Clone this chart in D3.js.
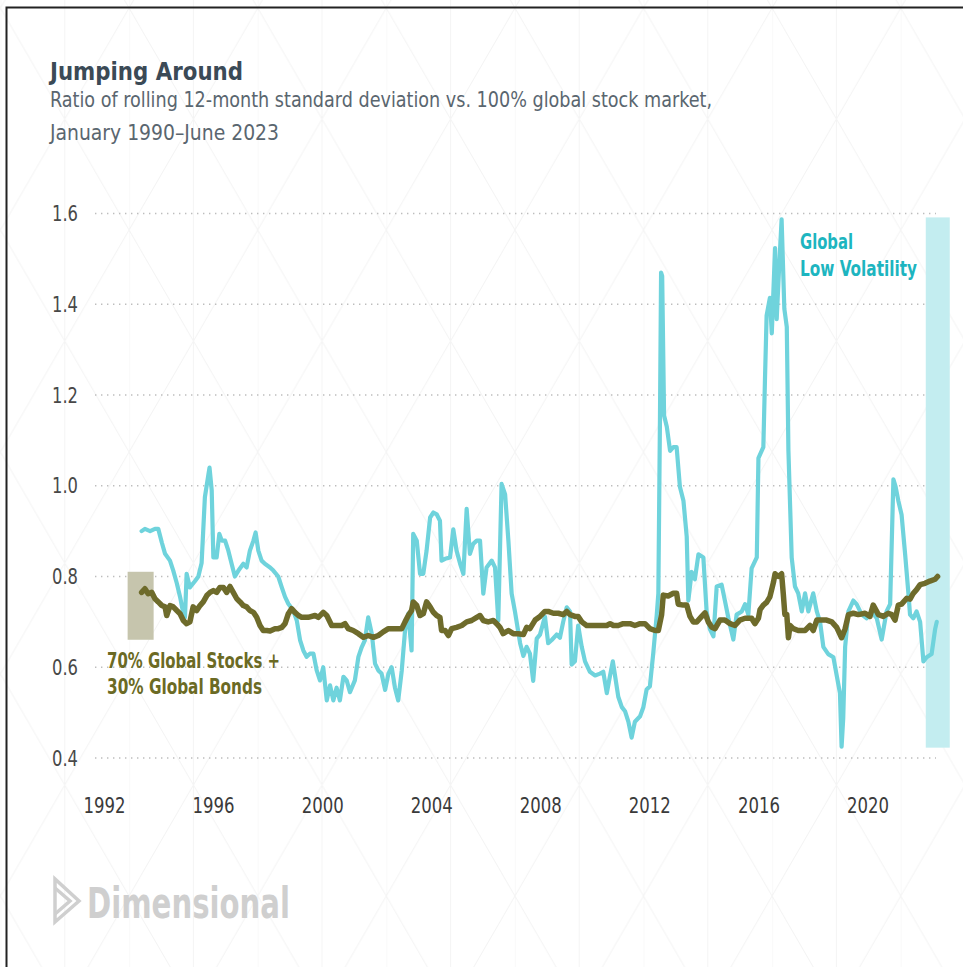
<!DOCTYPE html>
<html>
<head>
<meta charset="utf-8">
<script src="https://cdn.jsdelivr.net/npm/d3@7"></script>
<style>
  body { margin: 0; background: #fff; }
  svg { display: block; font-family: 'Liberation Sans Narrow', 'DejaVu Sans Condensed', Roboto, sans-serif; }
</style>
</head>
<body>
<div id="chart"></div>
<script>
// tick labels
const yearTicks = [1992, 1996, 2000, 2004, 2008, 2012, 2016, 2020];
const ratioTicks = [0.4, 0.6, 0.8, 1.0, 1.2, 1.4, 1.6];

// Global Low Volatility: [year, ratio]
const lowVol = [
  [1993.38, 0.90], [1993.50, 0.905], [1993.69, 0.90], [1993.87, 0.905], [1993.99, 0.905],
  [1994.12, 0.875], [1994.24, 0.85], [1994.42, 0.835], [1994.54, 0.813], [1994.67, 0.785],
  [1994.79, 0.755], [1994.91, 0.718], [1994.97, 0.71], [1995.03, 0.806], [1995.15, 0.776],
  [1995.34, 0.79], [1995.46, 0.80], [1995.58, 0.83], [1995.70, 0.975], [1995.83, 1.025],
  [1995.87, 1.04], [1995.95, 0.99], [1996.01, 0.842], [1996.13, 0.842], [1996.23, 0.894],
  [1996.32, 0.879], [1996.44, 0.879], [1996.56, 0.857], [1996.68, 0.828], [1996.80, 0.80],
  [1996.93, 0.813], [1997.11, 0.828], [1997.23, 0.82], [1997.35, 0.857], [1997.48, 0.879],
  [1997.56, 0.897], [1997.66, 0.857], [1997.78, 0.835], [1997.90, 0.828], [1998.09, 0.82],
  [1998.21, 0.813], [1998.39, 0.80], [1998.52, 0.776], [1998.64, 0.755], [1998.76, 0.74],
  [1998.94, 0.725], [1999.07, 0.703], [1999.19, 0.66], [1999.31, 0.637], [1999.43, 0.623],
  [1999.55, 0.63], [1999.68, 0.63], [1999.80, 0.593], [1999.92, 0.571], [2000.04, 0.60],
  [2000.17, 0.527], [2000.29, 0.56], [2000.41, 0.527], [2000.53, 0.555], [2000.65, 0.527],
  [2000.78, 0.579], [2000.90, 0.571], [2001.02, 0.545], [2001.20, 0.571], [2001.33, 0.623],
  [2001.45, 0.644], [2001.57, 0.66], [2001.69, 0.71], [2001.82, 0.674], [2001.94, 0.608],
  [2002.06, 0.593], [2002.18, 0.586], [2002.31, 0.55], [2002.43, 0.586], [2002.55, 0.60],
  [2002.67, 0.555], [2002.79, 0.527], [2002.92, 0.593], [2003.04, 0.681], [2003.16, 0.718],
  [2003.28, 0.637], [2003.34, 0.894], [2003.47, 0.879], [2003.59, 0.806], [2003.71, 0.806],
  [2003.83, 0.857], [2003.96, 0.93], [2004.08, 0.941], [2004.20, 0.937], [2004.32, 0.923],
  [2004.38, 0.835], [2004.51, 0.839], [2004.69, 0.842], [2004.81, 0.904], [2004.93, 0.857],
  [2005.06, 0.828], [2005.18, 0.806], [2005.30, 0.949], [2005.42, 0.85], [2005.54, 0.872],
  [2005.67, 0.879], [2005.79, 0.879], [2005.91, 0.762], [2006.03, 0.82], [2006.22, 0.835],
  [2006.34, 0.82], [2006.46, 0.703], [2006.58, 1.004], [2006.71, 0.981], [2006.83, 0.879],
  [2006.95, 0.762], [2007.07, 0.723], [2007.26, 0.653], [2007.38, 0.625], [2007.50, 0.645],
  [2007.62, 0.63], [2007.74, 0.57], [2007.87, 0.663], [2007.99, 0.672], [2008.17, 0.712],
  [2008.29, 0.653], [2008.42, 0.66], [2008.60, 0.672], [2008.72, 0.665], [2008.84, 0.70],
  [2008.97, 0.732], [2009.09, 0.723], [2009.15, 0.606], [2009.27, 0.613], [2009.39, 0.692],
  [2009.52, 0.645], [2009.64, 0.613], [2009.82, 0.59], [2010.01, 0.582], [2010.19, 0.586],
  [2010.31, 0.59], [2010.44, 0.543], [2010.56, 0.582], [2010.66, 0.613], [2010.74, 0.582],
  [2010.86, 0.535], [2010.99, 0.512], [2011.11, 0.503], [2011.23, 0.48], [2011.35, 0.445],
  [2011.47, 0.48], [2011.66, 0.492], [2011.78, 0.512], [2011.90, 0.551], [2012.02, 0.558],
  [2012.14, 0.629], [2012.27, 0.715], [2012.33, 0.763], [2012.39, 1.155], [2012.43, 1.47],
  [2012.47, 1.462], [2012.54, 1.155], [2012.64, 1.13], [2012.76, 1.077], [2012.88, 1.085],
  [2013.00, 1.085], [2013.12, 0.998], [2013.25, 0.967], [2013.37, 0.888], [2013.43, 0.747],
  [2013.55, 0.81], [2013.67, 0.794], [2013.80, 0.849], [2013.98, 0.842], [2014.10, 0.723],
  [2014.22, 0.684], [2014.35, 0.668], [2014.47, 0.778], [2014.65, 0.782], [2014.77, 0.747],
  [2014.90, 0.708], [2015.08, 0.661], [2015.20, 0.716], [2015.39, 0.723], [2015.51, 0.739],
  [2015.63, 0.716], [2015.75, 0.818], [2015.94, 0.842], [2016.00, 1.061], [2016.18, 1.085],
  [2016.24, 1.234], [2016.30, 1.375], [2016.42, 1.414], [2016.49, 1.336], [2016.61, 1.524],
  [2016.67, 1.367], [2016.75, 1.47], [2016.85, 1.587], [2016.95, 1.39], [2017.04, 1.35],
  [2017.10, 1.077], [2017.22, 0.842], [2017.34, 0.778], [2017.46, 0.763], [2017.59, 0.723],
  [2017.71, 0.763], [2017.83, 0.723], [2018.01, 0.763], [2018.14, 0.723], [2018.26, 0.70],
  [2018.38, 0.645], [2018.56, 0.629], [2018.75, 0.622], [2018.87, 0.582], [2018.99, 0.543],
  [2019.05, 0.425], [2019.11, 0.488], [2019.18, 0.645], [2019.30, 0.723], [2019.48, 0.747],
  [2019.60, 0.739], [2019.79, 0.716], [2019.97, 0.708], [2020.15, 0.723], [2020.34, 0.708],
  [2020.52, 0.661], [2020.70, 0.723], [2020.83, 0.739], [2020.95, 1.014], [2021.03, 0.998],
  [2021.13, 0.967], [2021.25, 0.936], [2021.38, 0.849], [2021.50, 0.763], [2021.56, 0.716],
  [2021.68, 0.708], [2021.80, 0.723], [2021.93, 0.70], [2022.05, 0.613], [2022.17, 0.622],
  [2022.35, 0.629], [2022.48, 0.684], [2022.54, 0.70]
];

// 70% Global Stocks + 30% Global Bonds: [year, ratio]
const balanced = [
  [1993.38, 0.765], [1993.50, 0.773], [1993.62, 0.762], [1993.75, 0.765], [1993.87, 0.751],
  [1993.99, 0.744], [1994.12, 0.736], [1994.24, 0.733], [1994.30, 0.714], [1994.42, 0.736],
  [1994.54, 0.733], [1994.67, 0.725], [1994.79, 0.718], [1994.91, 0.703], [1995.03, 0.696],
  [1995.15, 0.70], [1995.27, 0.733], [1995.40, 0.725], [1995.52, 0.736], [1995.64, 0.744],
  [1995.77, 0.758], [1995.89, 0.765], [1996.01, 0.769], [1996.13, 0.765], [1996.25, 0.776],
  [1996.38, 0.776], [1996.50, 0.765], [1996.62, 0.778], [1996.74, 0.765], [1996.87, 0.751],
  [1996.99, 0.744], [1997.11, 0.736], [1997.23, 0.733], [1997.35, 0.725], [1997.48, 0.721],
  [1997.60, 0.71], [1997.72, 0.692], [1997.84, 0.681], [1997.97, 0.681], [1998.09, 0.68],
  [1998.27, 0.685], [1998.39, 0.685], [1998.52, 0.688], [1998.64, 0.696], [1998.76, 0.718],
  [1998.88, 0.729], [1999.00, 0.721], [1999.13, 0.714], [1999.25, 0.71], [1999.49, 0.71],
  [1999.74, 0.714], [1999.86, 0.71], [2000.04, 0.721], [2000.17, 0.714], [2000.35, 0.692],
  [2000.53, 0.692], [2000.72, 0.692], [2000.84, 0.696], [2000.96, 0.685], [2001.14, 0.681],
  [2001.33, 0.674], [2001.51, 0.666], [2001.69, 0.67], [2001.88, 0.666], [2002.06, 0.67],
  [2002.24, 0.678], [2002.43, 0.685], [2002.67, 0.685], [2002.92, 0.685], [2003.04, 0.70],
  [2003.16, 0.714], [2003.28, 0.725], [2003.34, 0.744], [2003.47, 0.736], [2003.59, 0.714],
  [2003.71, 0.718], [2003.83, 0.744], [2003.96, 0.733], [2004.08, 0.721], [2004.20, 0.714],
  [2004.32, 0.71], [2004.38, 0.681], [2004.51, 0.681], [2004.63, 0.67], [2004.75, 0.685],
  [2004.93, 0.688], [2005.12, 0.692], [2005.30, 0.70], [2005.48, 0.703], [2005.67, 0.71],
  [2005.79, 0.714], [2005.91, 0.703], [2006.09, 0.70], [2006.28, 0.703], [2006.40, 0.696],
  [2006.52, 0.688], [2006.64, 0.674], [2006.83, 0.681], [2007.01, 0.674], [2007.19, 0.674],
  [2007.38, 0.672], [2007.50, 0.688], [2007.62, 0.685], [2007.81, 0.704], [2007.99, 0.712],
  [2008.17, 0.723], [2008.29, 0.723], [2008.48, 0.719], [2008.66, 0.719], [2008.84, 0.716],
  [2008.97, 0.723], [2009.09, 0.716], [2009.27, 0.712], [2009.39, 0.712], [2009.52, 0.70],
  [2009.70, 0.692], [2009.94, 0.692], [2010.19, 0.692], [2010.44, 0.692], [2010.56, 0.696],
  [2010.68, 0.692], [2010.86, 0.692], [2011.04, 0.696], [2011.29, 0.696], [2011.47, 0.692],
  [2011.66, 0.696], [2011.84, 0.696], [2012.02, 0.685], [2012.21, 0.681], [2012.33, 0.681],
  [2012.45, 0.716], [2012.51, 0.759], [2012.69, 0.757], [2012.88, 0.763], [2013.00, 0.763],
  [2013.06, 0.739], [2013.25, 0.737], [2013.37, 0.737], [2013.49, 0.712], [2013.61, 0.70],
  [2013.74, 0.70], [2013.92, 0.712], [2014.04, 0.72], [2014.16, 0.70], [2014.29, 0.688],
  [2014.41, 0.685], [2014.59, 0.704], [2014.77, 0.704], [2014.96, 0.696], [2015.14, 0.692],
  [2015.32, 0.704], [2015.51, 0.708], [2015.75, 0.708], [2015.87, 0.696], [2016.00, 0.708],
  [2016.06, 0.727], [2016.18, 0.737], [2016.30, 0.743], [2016.42, 0.755], [2016.55, 0.787],
  [2016.61, 0.806], [2016.73, 0.80], [2016.85, 0.806], [2016.91, 0.763], [2016.97, 0.716],
  [2017.04, 0.716], [2017.10, 0.665], [2017.16, 0.692], [2017.28, 0.685], [2017.46, 0.681],
  [2017.71, 0.681], [2017.89, 0.692], [2018.01, 0.681], [2018.14, 0.704], [2018.32, 0.704],
  [2018.50, 0.704], [2018.69, 0.70], [2018.87, 0.688], [2019.05, 0.665], [2019.18, 0.685],
  [2019.30, 0.716], [2019.48, 0.719], [2019.66, 0.716], [2019.91, 0.719], [2020.09, 0.712],
  [2020.21, 0.737], [2020.40, 0.716], [2020.58, 0.712], [2020.76, 0.719], [2020.89, 0.716],
  [2021.01, 0.704], [2021.13, 0.737], [2021.25, 0.739], [2021.44, 0.752], [2021.56, 0.75],
  [2021.68, 0.763], [2021.80, 0.771], [2021.93, 0.782], [2022.11, 0.785], [2022.29, 0.79],
  [2022.48, 0.794], [2022.57, 0.80]
];

const width = 963;
const height = 967;

const svg = d3.select("#chart")
    .append("svg")
    .attr("width", width)
    .attr("height", height);

// faint diamond texture in the background
const pattern = svg.append("defs").append("pattern")
    .attr("id", "texture")
    .attr("patternUnits", "userSpaceOnUse")
    .attr("x", 0.5)
    .attr("y", 8)
    .attr("width", 128.6)
    .attr("height", 222);
pattern.append("path")
    .attr("d", "M0,0L128.6,222M128.6,0L0,222M64.3,0V222M0,0V222")
    .attr("fill", "none")
    .attr("stroke", "#f4f4f4")
    .attr("stroke-width", 1);

svg.append("rect")
    .attr("width", width)
    .attr("height", height)
    .attr("fill", "url(#texture)");

// frame on top and left
svg.append("path")
    .attr("d", `M6.5,${height}V7.5H${width}`)
    .attr("fill", "none")
    .attr("stroke", "#222")
    .attr("stroke-width", 2);

// Title + subtitle
svg.append("text")
    .attr("x", 50)
    .attr("y", 80)
    .attr("textLength", 193)
    .attr("lengthAdjust", "spacingAndGlyphs")
    .style("fill", "#3b4a56")
    .style("font-size", "25px")
    .style("font-weight", "bold")
    .text("Jumping Around");

svg.append("text")
    .attr("x", 50)
    .attr("y", 107)
    .attr("textLength", 662)
    .attr("lengthAdjust", "spacingAndGlyphs")
    .style("fill", "#5a666f")
    .style("font-size", "21px")
    .style("font-weight", 300)
    .text("Ratio of rolling 12-month standard deviation vs. 100% global stock market,");

svg.append("text")
    .attr("x", 50)
    .attr("y", 140)
    .attr("textLength", 229)
    .attr("lengthAdjust", "spacingAndGlyphs")
    .style("fill", "#5a666f")
    .style("font-size", "21px")
    .style("font-weight", 300)
    .text("January 1990\u2013June 2023");

// Scales
const x = d3.scaleLinear().domain([1992, 2020]).range([104, 867.5]);
const y = d3.scaleLinear().domain([0.4, 1.6]).range([758, 213.5]);

// dotted gridlines
svg.append("g")
    .selectAll("line")
    .data(ratioTicks)
    .join("line")
    .attr("x1", 95)
    .attr("x2", 936)
    .attr("y1", d => y(d))
    .attr("y2", d => y(d))
    .attr("stroke", "#bdbdbd")
    .attr("stroke-width", 1.4)
    .attr("stroke-dasharray", "1.4,4.6");

// y labels
svg.append("g")
    .selectAll("text")
    .data(ratioTicks)
    .join("text")
    .attr("x", 52)
    .attr("y", d => y(d))
    .attr("dy", "0.36em")
    .attr("textLength", 26)
    .attr("lengthAdjust", "spacingAndGlyphs")
    .style("fill", "#484848")
    .style("font-size", "21px")
    .style("font-weight", 300)
    .text(d3.format(".1f"));

// x axis
const xAxis = svg.append("g")
    .attr("transform", "translate(0,795)")
    .call(d3.axisBottom(x).tickValues(yearTicks).tickSize(0).tickFormat(d3.format("d")));
xAxis.select(".domain").remove();
xAxis.selectAll("text")
    .attr("textLength", 42)
    .attr("lengthAdjust", "spacingAndGlyphs")
    .style("fill", "#3a3a3a")
    .style("font-size", "21px")
    .style("font-weight", 300)
    .style("font-family", "'Liberation Sans Narrow', 'DejaVu Sans Condensed', Roboto, sans-serif");

// range bars: extent of each series
const lvExtent = d3.extent(lowVol, d => d[1]);
const balExtent = d3.extent(balanced, d => d[1]);
const lvLast = lowVol[lowVol.length - 1][0];
const balFirst = balanced[0][0];

svg.append("rect")
    .attr("x", x(lvLast) - 11)
    .attr("y", y(lvExtent[1]) - 2)
    .attr("width", 24)
    .attr("height", y(lvExtent[0]) - y(lvExtent[1]) + 3)
    .attr("fill", "#c3edf0");

svg.append("rect")
    .attr("x", x(balFirst) - 14)
    .attr("y", y(balExtent[1]) - 2)
    .attr("width", 26)
    .attr("height", y(balExtent[0]) - y(balExtent[1]) + 4)
    .attr("fill", "#c6c5ad");

// lines
const line = d3.line()
    .x(d => x(d[0]))
    .y(d => y(d[1]));

svg.append("path")
    .datum(lowVol)
    .attr("d", line)
    .attr("fill", "none")
    .attr("stroke", "#6fd3dc")
    .attr("stroke-width", 4.2)
    .attr("stroke-linejoin", "round")
    .attr("stroke-linecap", "round");

svg.append("path")
    .datum(balanced)
    .attr("d", line)
    .attr("fill", "none")
    .attr("stroke", "#6e6b2b")
    .attr("stroke-width", 5.5)
    .attr("stroke-linejoin", "round")
    .attr("stroke-linecap", "round");

// series labels
const lvLabel = svg.append("g")
    .style("fill", "#1db5c0")
    .style("font-size", "21px")
    .style("font-weight", "bold");
lvLabel.append("text").attr("x", 800).attr("y", 249)
    .attr("textLength", 53).attr("lengthAdjust", "spacingAndGlyphs").text("Global");
lvLabel.append("text").attr("x", 800).attr("y", 276)
    .attr("textLength", 117).attr("lengthAdjust", "spacingAndGlyphs").text("Low Volatility");

const balLabel = svg.append("g")
    .style("fill", "#6b6a24")
    .style("font-size", "21px")
    .style("font-weight", "bold");
balLabel.append("text").attr("x", 107).attr("y", 668)
    .attr("textLength", 173).attr("lengthAdjust", "spacingAndGlyphs").text("70% Global Stocks +");
balLabel.append("text").attr("x", 107).attr("y", 694)
    .attr("textLength", 155).attr("lengthAdjust", "spacingAndGlyphs").text("30% Global Bonds");

// Dimensional logo (watermark)
const logo = svg.append("g").attr("fill", "none").attr("stroke", "#cfcfcf").attr("stroke-width", 3.5);
logo.append("path").attr("d", "M55,879L55,922L79,901Z");
logo.append("path").attr("d", "M55,888L70,901L55,914");
svg.append("text")
    .attr("x", 87)
    .attr("y", 918)
    .attr("textLength", 203)
    .attr("lengthAdjust", "spacingAndGlyphs")
    .style("fill", "#cfcfcf")
    .style("font-size", "42px")
    .style("font-weight", "bold")
    .text("Dimensional");
</script>
</body>
</html>
